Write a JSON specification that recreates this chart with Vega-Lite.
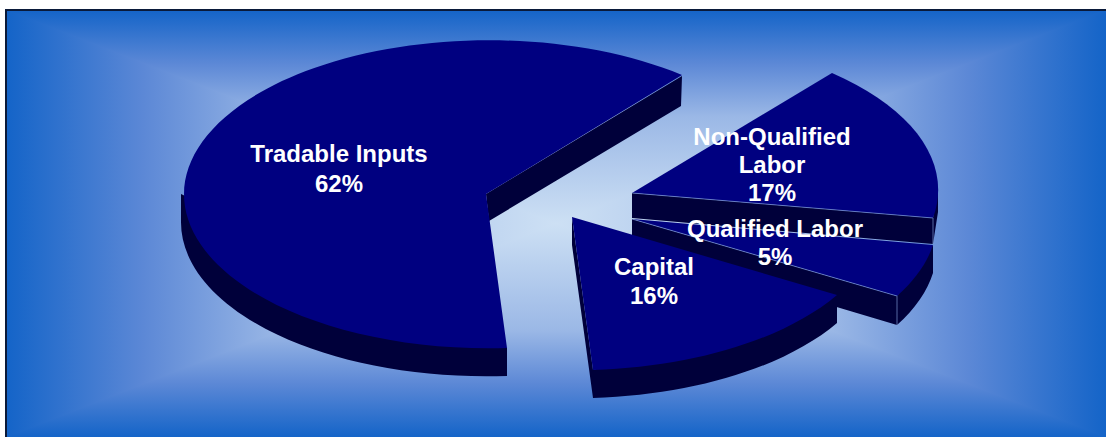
{"$schema":"https://vega.github.io/schema/vega-lite/v6.json","width":1106,"height":437,"autosize":{"type":"none"},"padding":0,"background":"#ffffff","config":{"view":{"stroke":null}},"data":{"values":[{"category":"Tradable Inputs","share":62},{"category":"Non-Qualified Labor","share":17},{"category":"Qualified Labor","share":5},{"category":"Capital","share":16}]},"resolve":{"scale":{"shape":"independent"}},"layer":[
{"data":{"values":[{"panel":"background"}]},"mark":{"type":"point","shape":"M-547 -208.5L553 -208.5L553 218.5L-547 218.5Z","size":4,"filled":true,"opacity":1,"fill":"#5c88d6"}},
{"data":{"values":[{"panel":"top"}]},"mark":{"type":"point","shape":"M-547 -208.5L553 -208.5L3 5Z","size":4,"filled":true,"opacity":1,"strokeWidth":1.5,"fill":{"gradient":"linear","x1":0,"y1":0,"x2":0,"y2":1,"stops":[{"offset":0,"color":"#1464c8"},{"offset":0.25,"color":"#5c88d6"},{"offset":0.5,"color":"#9bb8e6"},{"offset":1,"color":"#cde0f4"}]},"stroke":{"gradient":"linear","x1":0,"y1":0,"x2":0,"y2":1,"stops":[{"offset":0,"color":"#1464c8"},{"offset":0.25,"color":"#5c88d6"},{"offset":0.5,"color":"#9bb8e6"},{"offset":1,"color":"#cde0f4"}]}}},
{"data":{"values":[{"panel":"bottom"}]},"mark":{"type":"point","shape":"M-547 218.5L553 218.5L3 5Z","size":4,"filled":true,"opacity":1,"strokeWidth":1.5,"fill":{"gradient":"linear","x1":0,"y1":1,"x2":0,"y2":0,"stops":[{"offset":0,"color":"#1464c8"},{"offset":0.25,"color":"#5c88d6"},{"offset":0.5,"color":"#9bb8e6"},{"offset":1,"color":"#cde0f4"}]},"stroke":{"gradient":"linear","x1":0,"y1":1,"x2":0,"y2":0,"stops":[{"offset":0,"color":"#1464c8"},{"offset":0.25,"color":"#5c88d6"},{"offset":0.5,"color":"#9bb8e6"},{"offset":1,"color":"#cde0f4"}]}}},
{"data":{"values":[{"panel":"left"}]},"mark":{"type":"point","shape":"M-547 -208.5L-547 218.5L3 5Z","size":4,"filled":true,"opacity":1,"strokeWidth":1.5,"fill":{"gradient":"linear","x1":0,"y1":0,"x2":1,"y2":0,"stops":[{"offset":0,"color":"#1464c8"},{"offset":0.25,"color":"#5c88d6"},{"offset":0.5,"color":"#9bb8e6"},{"offset":1,"color":"#cde0f4"}]},"stroke":{"gradient":"linear","x1":0,"y1":0,"x2":1,"y2":0,"stops":[{"offset":0,"color":"#1464c8"},{"offset":0.25,"color":"#5c88d6"},{"offset":0.5,"color":"#9bb8e6"},{"offset":1,"color":"#cde0f4"}]}}},
{"data":{"values":[{"panel":"right"}]},"mark":{"type":"point","shape":"M553 -208.5L553 218.5L3 5Z","size":4,"filled":true,"opacity":1,"strokeWidth":1.5,"fill":{"gradient":"linear","x1":1,"y1":0,"x2":0,"y2":0,"stops":[{"offset":0,"color":"#1464c8"},{"offset":0.25,"color":"#5c88d6"},{"offset":0.5,"color":"#9bb8e6"},{"offset":1,"color":"#cde0f4"}]},"stroke":{"gradient":"linear","x1":1,"y1":0,"x2":0,"y2":0,"stops":[{"offset":0,"color":"#1464c8"},{"offset":0.25,"color":"#5c88d6"},{"offset":0.5,"color":"#9bb8e6"},{"offset":1,"color":"#cde0f4"}]}}},
{"data":{"values":[{"panel":"frame"}]},"mark":{"type":"point","shape":"M-547 218.5L-547 -208.5L553 -208.5","size":4,"filled":false,"opacity":1,"stroke":"#0a1a3a","strokeWidth":2}},
{"mark":{"type":"point","size":4,"filled":true,"opacity":1,"fill":"#00003a","stroke":null},"encoding":{"shape":{"field":"category","type":"nominal","legend":null,"scale":{"domain":["Tradable Inputs","Non-Qualified Labor","Qualified Labor","Capital"],"range":["M-372 -24.5L-46 129.5L-46 157.5A305 154 0 0 1 -372 3.5ZM-67 -24.5L129 -142.5L128 -112.5L-64 2.5Z","M79 -25.5L380 -0.5L380 25.5L79 -0.5ZM385 -33.5L380 -0.5L380 25.5L385 -6.5Z","M79 0.5L344 77.5L344 106.5L79 27.5ZM344 77.5L380 26.5L380 54.5A305 154 0 0 1 344 106.5Z","M40 151.5L284 76.5L284 104.5A305 154 0 0 1 40 179.5ZM19 -1.5L40 151.5L40 179.5L19 26.5Z"]}}}},
{"mark":{"type":"point","size":4,"filled":true,"opacity":1,"fill":"#000080","stroke":null},"encoding":{"shape":{"field":"category","type":"nominal","legend":null,"scale":{"domain":["Tradable Inputs","Non-Qualified Labor","Qualified Labor","Capital"],"range":["M-67 -24.5L129 -143.5A305 154 0 1 0 -46 129.5Z","M79 -25.5L279 -145.5A305 154 0 0 1 380 -0.5Z","M79 0.5L380 26.5A305 154 0 0 1 344 77.5Z","M19 -1.5L284 76.5A305 154 0 0 1 40 151.5Z"]}}}},
{"transform":[{"filter":"datum.category=='Non-Qualified Labor'||datum.category=='Qualified Labor'"}],"mark":{"type":"point","size":4,"filled":false,"opacity":0.6,"stroke":"#8fb0e8","strokeWidth":1},"encoding":{"shape":{"field":"category","type":"nominal","legend":null,"scale":{"domain":["Non-Qualified Labor","Qualified Labor"],"range":["M79 -25.5L380 -0.5L380 25.5","M79 0.5L344 77.5L344 106.5"]}}}},
{"transform":[{"calculate":"replace(datum.category,'Non-Qualified ','Non-Qualified\\n')+'\\n'+datum.share+'%'","as":"label"},{"filter":"datum.category=='Tradable Inputs'"}],"mark":{"type":"text","font":"Liberation Sans","fontWeight":"bold","fontSize":24,"color":"#ffffff","align":"center","baseline":"middle","lineBreak":"\n","lineHeight":30,"dx":-214,"dy":-64},"encoding":{"text":{"field":"label"}}},
{"transform":[{"calculate":"replace(datum.category,'Non-Qualified ','Non-Qualified\\n')+'\\n'+datum.share+'%'","as":"label"},{"filter":"datum.category=='Non-Qualified Labor'"}],"mark":{"type":"text","font":"Liberation Sans","fontWeight":"bold","fontSize":24,"color":"#ffffff","align":"center","baseline":"middle","lineBreak":"\n","lineHeight":28,"dx":219,"dy":-81},"encoding":{"text":{"field":"label"}}},
{"transform":[{"calculate":"replace(datum.category,'Non-Qualified ','Non-Qualified\\n')+'\\n'+datum.share+'%'","as":"label"},{"filter":"datum.category=='Qualified Labor'"}],"mark":{"type":"text","font":"Liberation Sans","fontWeight":"bold","fontSize":24,"color":"#ffffff","align":"center","baseline":"middle","lineBreak":"\n","lineHeight":28,"dx":222,"dy":11.5},"encoding":{"text":{"field":"label"}}},
{"transform":[{"calculate":"replace(datum.category,'Non-Qualified ','Non-Qualified\\n')+'\\n'+datum.share+'%'","as":"label"},{"filter":"datum.category=='Capital'"}],"mark":{"type":"text","font":"Liberation Sans","fontWeight":"bold","fontSize":24,"color":"#ffffff","align":"center","baseline":"middle","lineBreak":"\n","lineHeight":29,"dx":101,"dy":49},"encoding":{"text":{"field":"label"}}}
]}
